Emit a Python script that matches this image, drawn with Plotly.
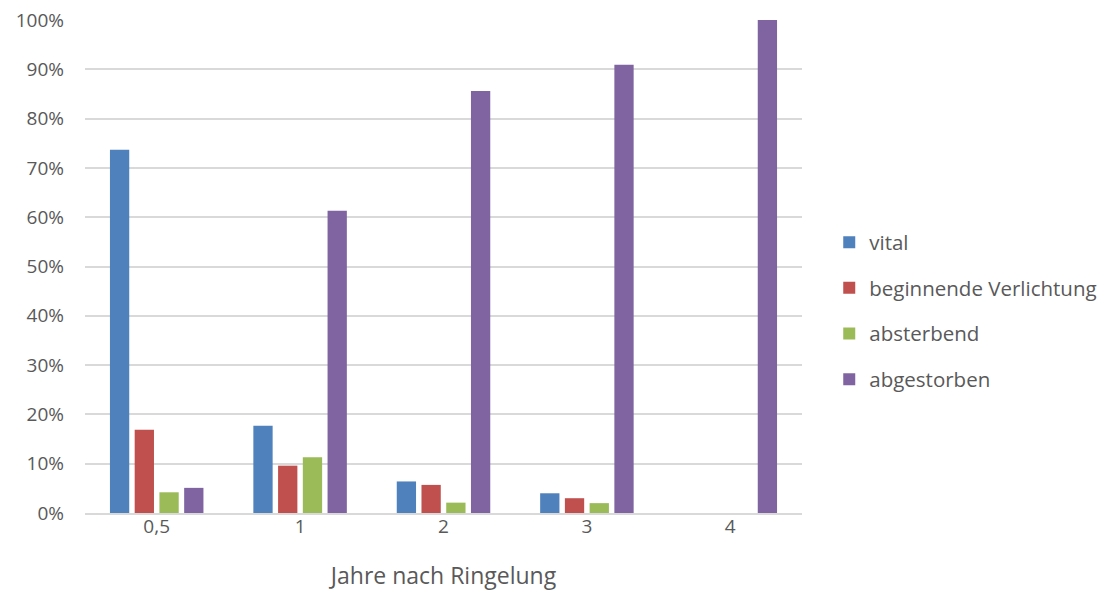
import plotly.graph_objects as go

# Anteil der Bäume je Vitalitätsklasse nach Jahren seit der Ringelung
jahre = ["0,5", "1", "2", "3", "4"]
vital = [0.737, 0.177, 0.064, 0.040, 0.0]
verlichtung = [0.169, 0.096, 0.057, 0.030, 0.0]
absterbend = [0.042, 0.113, 0.021, 0.020, 0.0]
abgestorben = [0.051, 0.613, 0.856, 0.909, 1.0]

reihen = [
    ("vital", vital, "#4f81bd"),
    ("beginnende Verlichtung", verlichtung, "#c0504d"),
    ("absterbend", absterbend, "#9bbb59"),
    ("abgestorben", abgestorben, "#8064a2"),
]

fig = go.Figure()
for i, (name, werte, farbe) in enumerate(reihen):
    fig.add_trace(go.Bar(
        x=jahre, y=werte, name=name, legendgroup=str(i),
        marker=dict(color=farbe, line=dict(width=0)),
    ))

schrift = "Open Sans"
textfarbe = "#595959"

fig.update_layout(
    width=1105, height=597,
    margin=dict(l=85, r=303, t=20, b=84, autoexpand=False),
    paper_bgcolor="white", plot_bgcolor="white",
    barmode="group", bargap=0.31, bargroupgap=0.22,
    font=dict(family=schrift, color=textfarbe, size=20),
    showlegend=True,
    legend=dict(
        x=1.038, xanchor="left", y=0.41, yanchor="middle",
        font=dict(size=20.5, color=textfarbe), tracegroupgap=16,
        bgcolor="rgba(0,0,0,0)",
    ),
    xaxis=dict(
        title=dict(text="Jahre nach Ringelung", font=dict(size=23, color=textfarbe), standoff=30),
        showline=True, linecolor="#d9d9d9", linewidth=1.5,
        ticks="", tickfont=dict(size=19, color=textfarbe),
        ticklabelstandoff=-5, automargin=False,
    ),
    yaxis=dict(
        range=[0, 1.0], dtick=0.1, tickformat=".0%",
        showgrid=True, gridcolor="#d9d9d9", gridwidth=1.5,
        zeroline=False, showline=False, ticks="",
        tickfont=dict(size=19, color=textfarbe),
        ticklabelstandoff=20, automargin=False,
    ),
)

fig.write_html("out.html")
